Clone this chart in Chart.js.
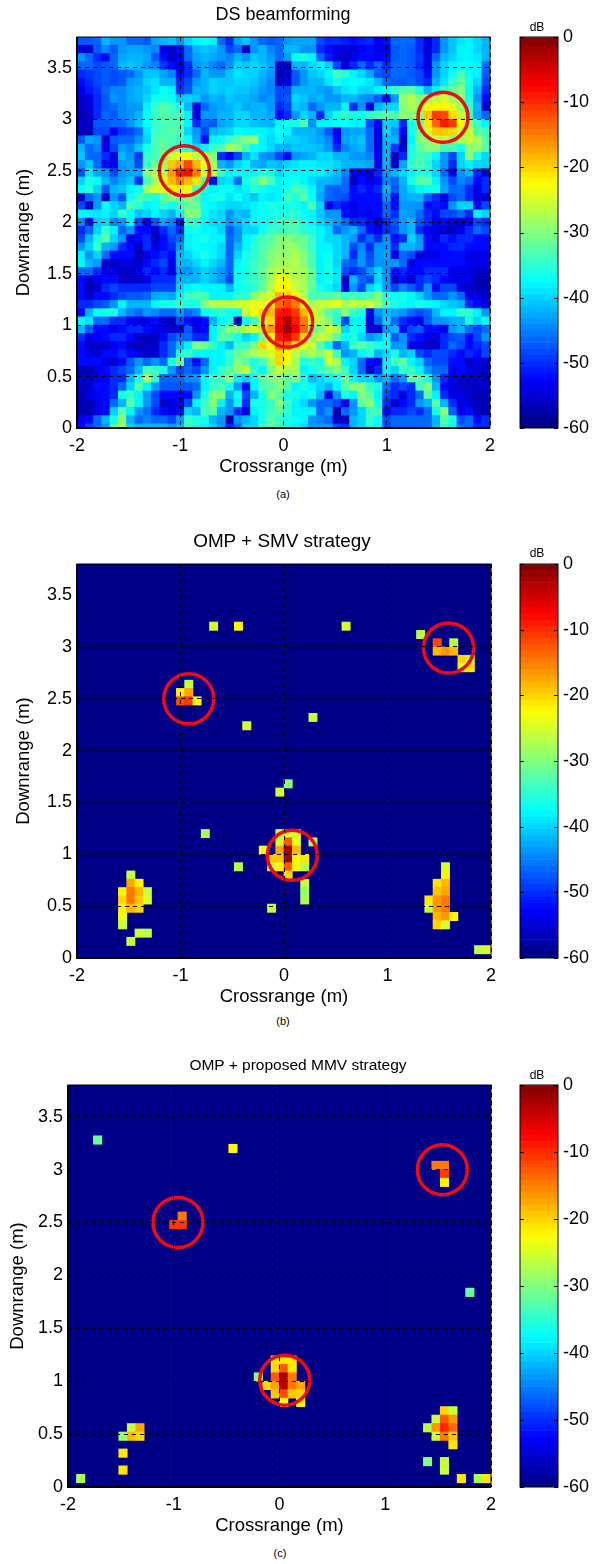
<!DOCTYPE html>
<html>
<head>
<meta charset="utf-8">
<title>Beamforming images</title>
<script src="https://cdn.jsdelivr.net/npm/chart.js@4"></script>
<style>
html, body { margin: 0; padding: 0; background: #fff; overflow: hidden; }
#page { position: relative; width: 600px; height: 1564px; }
canvas { position: absolute; }
.label { position: absolute; text-align: center; font-family: "Liberation Sans", sans-serif; color: #000; white-space: nowrap; }
</style>
</head>
<body>
<div id="page"></div>
<script>
const crossrangeTicks = [-2, -1, 0, 1, 2];
const downrangeTicks = [0, 0.5, 1, 1.5, 2, 2.5, 3, 3.5];
const colorbarTicks = [0, -10, -20, -30, -40, -50, -60];

// DS image in dB, top row first, left to right
const dsRows = [
[-47,-47,-46,-42,-44,-44,-46,-46,-47,-43,-42,-41,-44,-40,-38,-37,-38,-46,-50,-43,-41,-44,-46,-47,-46,-44,-43,-43,-43,-48,-50,-50,-51,-52,-51,-50,-53,-52,-46,-46,-46,-50,-54,-50,-44,-41,-39,-38,-40,-42],
[-54,-56,-47,-45,-47,-44,-43,-43,-44,-45,-54,-56,-52,-46,-42,-41,-42,-44,-48,-46,-56,-44,-42,-45,-46,-42,-42,-44,-44,-50,-52,-54,-55,-55,-53,-52,-54,-54,-47,-46,-47,-50,-55,-50,-44,-41,-38,-38,-40,-42],
[-44,-46,-50,-52,-46,-43,-42,-42,-43,-47,-52,-56,-53,-46,-43,-42,-43,-44,-45,-42,-44,-41,-42,-44,-46,-44,-37,-36,-38,-46,-51,-55,-56,-54,-52,-52,-53,-52,-47,-46,-47,-49,-54,-46,-42,-40,-38,-38,-39,-42],
[-46,-46,-48,-47,-46,-42,-41,-42,-44,-45,-49,-52,-54,-50,-44,-43,-45,-46,-44,-40,-41,-40,-41,-43,-56,-57,-42,-42,-40,-38,-40,-48,-54,-50,-46,-50,-46,-50,-46,-46,-47,-50,-54,-44,-40,-38,-37,-37,-38,-46],
[-50,-49,-48,-47,-48,-47,-46,-44,-41,-41,-43,-45,-52,-50,-46,-42,-44,-44,-41,-39,-40,-40,-42,-44,-57,-56,-47,-44,-41,-40,-38,-33,-35,-38,-40,-43,-47,-48,-46,-46,-47,-48,-52,-44,-40,-37,-33,-37,-38,-47],
[-52,-50,-48,-47,-48,-47,-44,-43,-40,-39,-42,-42,-50,-48,-44,-42,-40,-41,-41,-40,-40,-41,-43,-45,-56,-55,-47,-44,-42,-42,-39,-36,-38,-37,-38,-39,-42,-46,-47,-47,-46,-48,-50,-42,-39,-34,-31,-36,-40,-48],
[-54,-51,-49,-46,-45,-45,-43,-42,-41,-39,-37,-38,-49,-47,-42,-42,-40,-41,-40,-41,-41,-42,-44,-45,-48,-48,-42,-42,-42,-43,-44,-41,-39,-38,-40,-40,-38,-37,-34,-32,-32,-36,-42,-38,-34,-31,-30,-37,-42,-50],
[-56,-54,-50,-47,-44,-45,-43,-42,-40,-37,-36,-37,-41,-40,-41,-44,-42,-43,-41,-42,-42,-43,-45,-44,-48,-47,-40,-41,-43,-42,-44,-44,-42,-42,-44,-45,-47,-52,-44,-29,-27,-30,-29,-27,-25,-29,-30,-36,-44,-52],
[-56,-55,-50,-47,-46,-45,-44,-44,-38,-34,-32,-34,-36,-42,-55,-46,-44,-43,-42,-41,-43,-42,-42,-44,-50,-48,-41,-42,-46,-44,-42,-42,-38,-50,-44,-54,-42,-40,-40,-30,-28,-29,-23,-22,-22,-24,-29,-34,-42,-56],
[-57,-56,-50,-46,-47,-45,-44,-42,-37,-34,-32,-33,-33,-38,-54,-44,-44,-42,-42,-40,-40,-42,-42,-43,-52,-50,-44,-40,-42,-50,-40,-36,-34,-36,-36,-35,-33,-32,-33,-30,-30,-29,-19,-11,-12,-20,-26,-33,-43,-46],
[-56,-56,-47,-47,-46,-46,-44,-41,-37,-34,-33,-33,-33,-38,-50,-46,-47,-43,-42,-40,-40,-41,-42,-42,-38,-36,-36,-33,-44,-38,-38,-37,-37,-38,-38,-48,-53,-40,-41,-50,-36,-32,-21,-14,-9,-11,-22,-30,-34,-38],
[-57,-57,-48,-48,-53,-49,-48,-46,-39,-34,-33,-32,-33,-40,-44,-48,-42,-41,-40,-37,-38,-38,-38,-39,-37,-38,-42,-42,-42,-44,-47,-53,-44,-43,-43,-46,-54,-40,-44,-52,-36,-31,-25,-19,-19,-20,-26,-26,-32,-33],
[-47,-43,-44,-55,-47,-46,-46,-44,-40,-33,-32,-33,-34,-37,-43,-52,-38,-37,-34,-32,-30,-29,-38,-40,-38,-40,-40,-41,-42,-43,-45,-52,-43,-42,-41,-46,-54,-42,-42,-56,-38,-30,-30,-26,-26,-29,-28,-26,-28,-32],
[-42,-46,-45,-54,-48,-44,-45,-41,-36,-33,-31,-33,-34,-36,-40,-38,-34,-33,-28,-30,-33,-37,-38,-40,-42,-42,-41,-41,-41,-42,-44,-50,-45,-43,-42,-46,-54,-42,-49,-56,-36,-32,-30,-30,-33,-33,-36,-30,-29,-32],
[-41,-46,-46,-50,-54,-42,-44,-49,-34,-33,-30,-26,-23,-23,-27,-27,-30,-50,-53,-48,-42,-39,-44,-45,-48,-52,-44,-43,-42,-40,-40,-42,-42,-44,-44,-45,-53,-42,-57,-50,-35,-33,-34,-38,-44,-48,-40,-30,-36,-40],
[-44,-41,-46,-52,-53,-44,-43,-48,-34,-31,-28,-19,-17,-12,-18,-24,-28,-42,-44,-40,-38,-42,-43,-41,-42,-40,-39,-38,-38,-39,-39,-40,-42,-42,-42,-43,-54,-42,-56,-43,-34,-33,-35,-40,-44,-50,-40,-38,-40,-40],
[-48,-39,-43,-44,-48,-44,-43,-43,-30,-27,-27,-16,-9,-8,-15,-25,-26,-34,-38,-37,-38,-38,-35,-36,-40,-38,-38,-38,-38,-38,-40,-42,-45,-55,-54,-56,-50,-44,-42,-40,-38,-35,-36,-40,-46,-54,-44,-42,-50,-56],
[-40,-36,-37,-42,-45,-43,-41,-50,-33,-28,-24,-18,-15,-18,-21,-32,-52,-40,-39,-46,-36,-34,-30,-33,-38,-37,-36,-38,-40,-42,-42,-43,-46,-56,-52,-54,-52,-45,-46,-42,-36,-32,-32,-38,-44,-48,-45,-46,-52,-50],
[-37,-35,-40,-47,-42,-41,-38,-37,-28,-25,-25,-22,-21,-24,-33,-36,-38,-37,-37,-39,-38,-35,-37,-38,-38,-36,-33,-34,-38,-42,-46,-47,-46,-52,-50,-52,-50,-42,-47,-43,-40,-38,-37,-36,-43,-46,-46,-50,-54,-50],
[-56,-46,-44,-56,-44,-47,-37,-33,-34,-36,-32,-30,-32,-30,-32,-38,-36,-36,-39,-37,-39,-41,-38,-39,-38,-33,-36,-32,-37,-43,-46,-47,-48,-52,-52,-52,-52,-44,-52,-43,-42,-42,-47,-50,-54,-48,-46,-50,-55,-56],
[-48,-56,-44,-37,-40,-42,-33,-35,-38,-37,-34,-37,-34,-31,-31,-37,-38,-39,-40,-40,-39,-38,-37,-36,-36,-36,-36,-38,-33,-40,-54,-50,-52,-54,-52,-52,-52,-46,-52,-44,-44,-44,-52,-51,-52,-44,-40,-40,-52,-48],
[-38,-38,-39,-38,-40,-34,-37,-41,-40,-38,-40,-42,-38,-30,-30,-37,-39,-40,-44,-41,-42,-38,-37,-36,-36,-35,-35,-37,-38,-41,-44,-44,-52,-54,-52,-53,-52,-46,-50,-43,-44,-46,-50,-52,-48,-48,-46,-50,-38,-40],
[-45,-52,-41,-40,-45,-44,-38,-48,-54,-47,-43,-45,-52,-34,-34,-38,-40,-40,-44,-42,-40,-38,-37,-36,-34,-33,-33,-36,-38,-40,-42,-44,-46,-50,-50,-52,-57,-50,-47,-44,-42,-47,-50,-54,-52,-54,-56,-54,-48,-50],
[-50,-46,-40,-34,-38,-46,-44,-52,-52,-56,-50,-46,-50,-37,-36,-38,-38,-40,-47,-44,-40,-40,-37,-34,-34,-33,-33,-35,-36,-38,-40,-46,-44,-42,-46,-52,-54,-50,-48,-44,-42,-50,-54,-54,-56,-57,-54,-50,-46,-48],
[-48,-42,-36,-32,-40,-44,-54,-52,-50,-56,-52,-48,-46,-38,-37,-36,-38,-38,-46,-44,-38,-36,-33,-32,-30,-30,-31,-31,-34,-38,-40,-40,-42,-44,-50,-46,-50,-44,-52,-50,-40,-44,-52,-55,-50,-52,-50,-50,-52,-52],
[-44,-40,-34,-42,-44,-50,-52,-56,-50,-54,-52,-50,-44,-38,-37,-38,-38,-40,-46,-42,-38,-35,-33,-31,-30,-29,-29,-31,-34,-38,-38,-40,-42,-48,-45,-50,-44,-44,-50,-42,-42,-44,-52,-52,-52,-50,-50,-52,-52,-52],
[-38,-44,-40,-46,-52,-52,-52,-57,-54,-52,-50,-52,-42,-40,-38,-36,-38,-40,-46,-40,-36,-35,-32,-30,-29,-29,-28,-30,-33,-38,-37,-40,-42,-50,-44,-48,-44,-43,-54,-46,-48,-54,-54,-54,-52,-52,-52,-54,-54,-54],
[-38,-42,-44,-56,-56,-55,-54,-56,-52,-50,-48,-54,-42,-42,-40,-38,-40,-42,-46,-38,-36,-34,-32,-30,-28,-28,-27,-30,-33,-38,-36,-40,-46,-47,-44,-47,-44,-44,-44,-46,-54,-52,-52,-52,-52,-52,-52,-54,-54,-54],
[-46,-46,-50,-54,-54,-56,-56,-54,-50,-52,-50,-54,-44,-44,-42,-40,-42,-44,-46,-37,-36,-34,-31,-28,-26,-27,-28,-28,-31,-38,-36,-39,-48,-50,-48,-44,-40,-44,-52,-50,-52,-52,-50,-50,-50,-54,-54,-54,-56,-56],
[-52,-56,-54,-52,-52,-56,-56,-56,-54,-50,-50,-50,-42,-42,-42,-40,-42,-44,-48,-37,-35,-34,-32,-28,-23,-24,-27,-28,-31,-38,-36,-39,-56,-42,-46,-48,-40,-44,-56,-52,-56,-50,-48,-50,-52,-54,-54,-54,-57,-57],
[-52,-57,-56,-50,-48,-50,-50,-50,-50,-48,-48,-48,-40,-38,-37,-38,-38,-38,-42,-37,-36,-35,-31,-27,-22,-22,-26,-28,-32,-36,-38,-40,-54,-44,-48,-40,-38,-44,-48,-45,-47,-50,-44,-52,-48,-48,-54,-56,-57,-57],
[-52,-56,-52,-52,-50,-48,-47,-47,-46,-43,-42,-43,-38,-34,-33,-33,-38,-38,-38,-35,-35,-30,-27,-25,-18,-19,-23,-27,-33,-33,-33,-31,-34,-33,-34,-33,-30,-36,-37,-36,-38,-40,-44,-46,-46,-44,-46,-54,-54,-56],
[-50,-50,-48,-47,-44,-38,-42,-42,-42,-38,-36,-36,-34,-36,-36,-30,-27,-27,-27,-26,-25,-24,-24,-22,-14,-12,-15,-22,-28,-26,-25,-24,-28,-26,-27,-26,-29,-34,-36,-37,-38,-36,-37,-38,-40,-41,-42,-50,-52,-54],
[-52,-42,-37,-36,-36,-42,-45,-46,-44,-45,-46,-46,-44,-46,-45,-37,-36,-35,-37,-36,-26,-23,-20,-18,-9,-8,-11,-18,-24,-28,-32,-34,-30,-34,-36,-52,-44,-42,-43,-44,-46,-48,-46,-42,-38,-38,-34,-35,-38,-44],
[-37,-39,-46,-46,-50,-50,-53,-54,-54,-52,-55,-57,-48,-52,-54,-52,-42,-38,-36,-57,-37,-33,-27,-20,-7,-2,-9,-15,-23,-27,-30,-36,-48,-38,-38,-55,-46,-40,-46,-50,-52,-54,-47,-44,-44,-43,-42,-36,-40,-37],
[-42,-47,-52,-52,-54,-52,-50,-50,-52,-54,-55,-56,-54,-47,-54,-52,-38,-33,-30,-30,-27,-25,-28,-16,-6,-1,-7,-14,-31,-30,-25,-28,-40,-36,-38,-55,-56,-44,-42,-52,-48,-47,-52,-52,-54,-44,-42,-46,-48,-46],
[-50,-54,-53,-52,-50,-50,-52,-56,-57,-56,-52,-48,-46,-46,-50,-50,-38,-32,-33,-36,-40,-38,-30,-22,-9,-6,-11,-20,-28,-26,-28,-32,-37,-36,-40,-44,-42,-38,-47,-44,-50,-52,-54,-55,-50,-48,-47,-52,-48,-44],
[-52,-56,-56,-56,-53,-52,-56,-57,-56,-56,-50,-46,-42,-38,-30,-31,-34,-38,-42,-34,-34,-30,-20,-23,-15,-14,-21,-24,-26,-32,-38,-46,-42,-34,-32,-34,-36,-37,-44,-44,-54,-54,-56,-56,-50,-46,-48,-52,-50,-48],
[-52,-54,-55,-52,-52,-50,-52,-54,-56,-55,-50,-46,-36,-34,-38,-38,-38,-38,-34,-32,-30,-28,-27,-25,-20,-22,-27,-30,-28,-30,-26,-34,-44,-42,-38,-36,-42,-40,-36,-42,-40,-48,-50,-48,-48,-50,-52,-50,-52,-48],
[-52,-52,-52,-54,-56,-52,-47,-44,-46,-44,-46,-36,-31,-47,-52,-46,-38,-38,-35,-30,-32,-36,-33,-28,-20,-24,-28,-36,-34,-36,-26,-28,-38,-40,-46,-52,-54,-38,-33,-32,-38,-40,-46,-48,-48,-52,-52,-56,-54,-56],
[-57,-57,-54,-52,-50,-48,-46,-42,-33,-34,-36,-44,-48,-46,-48,-44,-38,-34,-32,-30,-26,-34,-38,-30,-26,-28,-28,-38,-36,-34,-32,-30,-34,-40,-46,-56,-50,-38,-40,-34,-34,-38,-44,-46,-46,-54,-52,-54,-56,-56],
[-56,-56,-54,-53,-50,-50,-42,-36,-28,-35,-46,-46,-46,-45,-44,-38,-34,-34,-30,-38,-40,-37,-32,-30,-30,-32,-30,-36,-42,-40,-38,-37,-31,-38,-40,-40,-44,-42,-46,-44,-32,-32,-36,-44,-50,-54,-56,-56,-56,-56],
[-56,-56,-52,-52,-50,-46,-40,-32,-38,-44,-47,-47,-47,-47,-46,-38,-34,-33,-36,-44,-52,-38,-33,-32,-30,-32,-38,-36,-38,-40,-42,-38,-32,-30,-30,-34,-36,-46,-50,-48,-50,-34,-30,-42,-52,-54,-56,-56,-56,-56],
[-57,-54,-53,-52,-50,-36,-34,-38,-44,-48,-52,-52,-52,-52,-44,-36,-30,-30,-42,-37,-48,-42,-36,-30,-32,-36,-36,-38,-36,-42,-54,-44,-36,-38,-30,-32,-38,-48,-50,-54,-50,-46,-32,-38,-50,-54,-54,-56,-57,-57],
[-57,-57,-54,-52,-46,-42,-32,-38,-44,-48,-56,-54,-54,-48,-38,-34,-30,-38,-44,-38,-50,-36,-36,-34,-30,-34,-38,-40,-44,-46,-46,-48,-54,-44,-32,-30,-36,-50,-56,-52,-50,-44,-42,-32,-42,-50,-54,-55,-57,-57],
[-57,-57,-54,-52,-40,-32,-38,-44,-46,-50,-52,-54,-52,-40,-42,-33,-32,-42,-44,-50,-54,-38,-36,-33,-32,-35,-38,-38,-38,-46,-44,-58,-46,-44,-40,-34,-33,-52,-50,-50,-48,-50,-46,-36,-30,-46,-54,-52,-56,-57],
[-54,-52,-46,-42,-36,-30,-42,-46,-45,-46,-46,-48,-44,-34,-36,-36,-42,-44,-58,-44,-42,-40,-36,-32,-34,-36,-37,-38,-44,-45,-46,-56,-57,-42,-40,-34,-37,-48,-46,-46,-46,-46,-46,-42,-32,-36,-48,-46,-52,-50],
[-52,-48,-46,-44,-32,-28,-40,-42,-42,-42,-42,-44,-42,-34,-36,-38,-40,-44,-50,-46,-40,-40,-34,-32,-34,-36,-38,-40,-44,-44,-44,-48,-50,-42,-40,-36,-38,-48,-46,-46,-46,-46,-46,-42,-34,-38,-46,-46,-50,-50]
];

// non-background cells of the OMP images: [column, row from bottom, dB]
const smvCells = [
[16,40,-25],[19,40,-22],[32,40,-25],[41,39,-27],[43,38,-12],[45,38,-27],[43,37,-18],[44,37,-16],[45,37,-18],
[46,36,-20],[47,36,-25],[46,35,-25],[47,35,-21],[13,33,-27],[12,32,-22],[13,32,-17],[12,31,-12],[13,31,-11],[14,31,-22],
[28,29,-26],[20,28,-25],[25,21,-30],[24,20,-25],
[15,15,-28],[24,15,-26],[25,15,-24],[26,15,-25],[24,14,-25],[25,14,-13],[26,14,-24],[28,14,-28],
[22,13,-23],[24,13,-17],[25,13,-2],[26,13,-18],[23,12,-19],[24,12,-19],[25,12,-2],[26,12,-22],[27,12,-21],
[19,11,-27],[23,11,-27],[24,11,-22],[25,11,-13],[26,11,-22],[27,11,-27],[25,10,-20],[23,6,-26],
[27,9,-26],[27,8,-29],[27,7,-28],
[6,10,-26],[6,9,-17],[7,9,-22],[5,8,-22],[6,8,-15],[7,8,-18],[8,8,-26],[5,7,-20],[6,7,-15],[7,7,-19],[8,7,-25],
[5,6,-22],[6,6,-18],[7,6,-20],[5,5,-23],[5,4,-26],[7,3,-26],[8,3,-27],[6,2,-26],
[44,11,-25],[44,10,-22],[43,9,-21],[44,9,-18],[43,8,-19],[44,8,-17],[42,7,-21],[43,7,-16],[44,7,-15],
[42,6,-26],[43,6,-16],[44,6,-15],[43,5,-18],[44,5,-16],[45,5,-22],[43,4,-20],[44,4,-25],[48,1,-27],[49,1,-25]
];

const mmvCells = [
[3,41,-31],[19,40,-22],[43,38,-15],[44,38,-15],[44,37,-11],[44,36,-22],[13,32,-15],[12,31,-11],[13,31,-11],[47,23,-31],
[24,15,-21],[25,15,-21],[26,15,-21],[24,14,-20],[25,14,-13],[26,14,-21],[22,13,-30],[24,13,-13],[25,13,-2],[26,13,-15],
[23,12,-20],[24,12,-17],[25,12,-3],[26,12,-15],[27,12,-17],[24,11,-19],[25,11,-12],[26,11,-19],[27,11,-20],[25,10,-22],[27,10,-22],
[7,7,-26],[8,7,-17],[6,6,-29],[7,6,-18],[8,6,-20],[6,4,-21],[6,2,-21],[1,1,-28],
[44,9,-20],[45,9,-26],[43,8,-26],[44,8,-13],[45,8,-16],[42,7,-27],[43,7,-16],[44,7,-10],[45,7,-14],
[43,6,-26],[44,6,-15],[45,6,-19],[45,5,-21],[42,3,-30],[44,3,-26],[44,2,-26],[46,1,-21],[48,1,-28],[49,1,-21]
];

// red target circles: [crossrange, downrange] in m
const dsCircles = [[-0.96, 2.5], [1.545, 3.02], [0.04, 1.03]];
const smvCircles = [[-0.92, 2.5], [1.59, 2.99], [0.08, 0.99]];
const mmvCircles = [[-0.96, 2.5], [1.54, 3.0], [0.05, 1.01]];

const FONT = "'Liberation Sans', sans-serif";
const page = document.getElementById("page");

function jet(db) {
    const level = Math.min(63, Math.floor((db + 60) / 60 * 64));
    const t = (level + 0.5) / 64;
    const channel = c => Math.round(255 * Math.max(0, Math.min(1, 1.5 - Math.abs(4 * t - c))));
    return `rgb(${channel(3)},${channel(2)},${channel(1)})`;
}

function cellBar(column, row) {
    return { x: -1.96 + 0.08 * column, y: [0.08 * row - 0.04, 0.08 * row + 0.04] };
}

function addCanvas(left, top, width, height) {
    const canvas = document.createElement("canvas");
    canvas.width = width;
    canvas.height = height;
    canvas.style.left = left + "px";
    canvas.style.top = top + "px";
    page.appendChild(canvas);
    return canvas;
}

function addLabel(text, centerX, centerY, size) {
    const div = document.createElement("div");
    div.className = "label";
    div.textContent = text;
    div.style.left = (centerX - 200) + "px";
    div.style.width = "400px";
    div.style.top = (centerY - 10) + "px";
    div.style.lineHeight = "20px";
    div.style.fontSize = size + "px";
    page.appendChild(div);
}

const framePlugin = {
    id: "frame",
    beforeDatasetsDraw(chart) {
        const { ctx, chartArea: a } = chart;
        ctx.save();
        ctx.fillStyle = jet(-60);
        ctx.fillRect(a.left, a.top, a.width, a.height);
        ctx.restore();
    },
    afterDraw(chart) {
        const { ctx, chartArea: a } = chart;
        ctx.save();
        ctx.strokeStyle = "#000";
        ctx.lineWidth = 1;
        ctx.strokeRect(a.left, a.top, a.width, a.height);
        ctx.lineWidth = 2;
        ctx.beginPath();
        ctx.moveTo(a.left, a.top);
        ctx.lineTo(a.left, a.bottom);
        ctx.lineTo(a.right, a.bottom);
        ctx.stroke();
        ctx.restore();
    }
};

function renderImage(box, cells, circles) {
    const canvasTop = box.top - 20;
    const width = box.right + 30;
    const height = box.bottom + 50 - canvasTop;
    const canvas = addCanvas(0, canvasTop, width, height);

    new Chart(canvas, {
        type: "bar",
        data: {
            datasets: [{
                type: "scatter",
                order: 0,
                data: circles.map(c => ({ x: c[0], y: c[1] })),
                pointRadius: box.radius,
                pointBorderWidth: 3.5,
                pointBorderColor: "#f00a14",
                pointBackgroundColor: "transparent"
            }, {
                order: 1,
                data: cells.map(c => cellBar(c[0], c[1])),
                backgroundColor: cells.map(c => jet(c[2])),
                borderWidth: 0,
                grouped: false,
                barPercentage: 1,
                categoryPercentage: 1
            }]
        },
        options: {
            responsive: false,
            animation: false,
            events: [],
            layout: { autoPadding: false, padding: { top: 20, right: 30 } },
            plugins: {
                legend: { display: false },
                tooltip: { enabled: false }
            },
            scales: {
                x: {
                    type: "linear",
                    offset: false,
                    min: -2,
                    max: 2,
                    afterBuildTicks: scale => { scale.ticks = crossrangeTicks.map(v => ({ value: v })); },
                    afterFit: scale => { scale.height = 50; },
                    grid: { offset: false, z: 1, color: "#000", lineWidth: 1, drawTicks: false },
                    border: { dash: [4, 4], display: false },
                    ticks: { color: "#000", padding: 7, maxRotation: 0, font: { family: FONT, size: 18 }, callback: v => String(v) },
                    title: { display: true, text: "Crossrange (m)", color: "#000", padding: 0, font: { family: FONT, size: 18.5 } }
                },
                y: {
                    min: 0,
                    max: 3.8,
                    afterBuildTicks: scale => { scale.ticks = downrangeTicks.map(v => ({ value: v })); },
                    afterFit: scale => { scale.width = box.left; },
                    grid: { z: 1, color: "#000", lineWidth: 1, drawTicks: false },
                    border: { dash: [4, 4], display: false },
                    ticks: { color: "#000", padding: 5, font: { family: FONT, size: 18 }, callback: v => String(v) },
                    title: { display: true, text: "Downrange (m)", color: "#000", padding: box.yTitleX - 11, font: { family: FONT, size: 18.5 } }
                }
            }
        },
        plugins: [framePlugin]
    });
}

function renderColorbar(box) {
    const canvas = addCanvas(484, box.top - 20, 110, box.bottom - box.top + 36);
    const levels = [];
    for (let k = 0; k < 64; k++) {
        levels.push(-60 + k * 60 / 64);
    }

    new Chart(canvas, {
        type: "bar",
        data: {
            datasets: [{
                data: levels.map(v => ({ x: 0, y: [v, v + 60 / 64] })),
                backgroundColor: levels.map(v => jet(v + 0.4)),
                borderWidth: 0,
                grouped: false,
                barThickness: 38
            }]
        },
        options: {
            responsive: false,
            animation: false,
            events: [],
            layout: { autoPadding: false, padding: { top: 20, left: 36, bottom: 16 } },
            plugins: {
                legend: { display: false },
                tooltip: { enabled: false }
            },
            scales: {
                x: { type: "linear", display: false, offset: false, min: -1, max: 1 },
                y: {
                    position: "right",
                    min: -60,
                    max: 0,
                    afterBuildTicks: scale => { scale.ticks = colorbarTicks.map(v => ({ value: v })); },
                    afterFit: scale => { scale.width = 36; },
                    grid: { drawOnChartArea: false, drawTicks: false },
                    border: { display: false },
                    ticks: { color: "#000", padding: 5, font: { family: FONT, size: 18 }, callback: v => String(v) }
                }
            }
        },
        plugins: [{
            id: "colorbarTicks",
            afterDraw(chart) {
                const { ctx, chartArea: a, scales } = chart;
                ctx.save();
                ctx.strokeStyle = "#000";
                ctx.lineWidth = 1;
                ctx.strokeRect(a.left, a.top, a.width, a.height);
                colorbarTicks.forEach(v => {
                    const y = Math.round(scales.y.getPixelForValue(v)) + 0.5;
                    ctx.beginPath();
                    ctx.moveTo(a.left, y);
                    ctx.lineTo(a.left + 4, y);
                    ctx.moveTo(a.right - 4, y);
                    ctx.lineTo(a.right, y);
                    ctx.stroke();
                });
                ctx.restore();
            }
        }]
    });
}

const dsCells = [];
dsRows.forEach((row, k) => row.forEach((db, column) => dsCells.push([column, 47 - k, db])));

const boxA = { left: 77, right: 490, top: 37, bottom: 428, yTitleX: 24, radius: 25 };
const boxB = { left: 77, right: 491, top: 564, bottom: 958, yTitleX: 24, radius: 25 };
const boxC = { left: 68, right: 491, top: 1085, bottom: 1487, yTitleX: 18, radius: 25 };

renderImage(boxA, dsCells, dsCircles);
renderImage(boxB, smvCells, smvCircles);
renderImage(boxC, mmvCells, mmvCircles);
[boxA, boxB, boxC].forEach(renderColorbar);

addLabel("DS beamforming", 283, 14, 18);
addLabel("OMP + SMV strategy", 282, 541, 18.9);
addLabel("OMP + proposed MMV strategy", 298, 1065, 15.5);
addLabel("dB", 537, 27, 12);
addLabel("dB", 537, 553, 12);
addLabel("dB", 537, 1075, 12);
addLabel("(a)", 283, 494, 11);
addLabel("(b)", 283, 1021, 11);
addLabel("(c)", 280, 1553, 11);
</script>
</body>
</html>
